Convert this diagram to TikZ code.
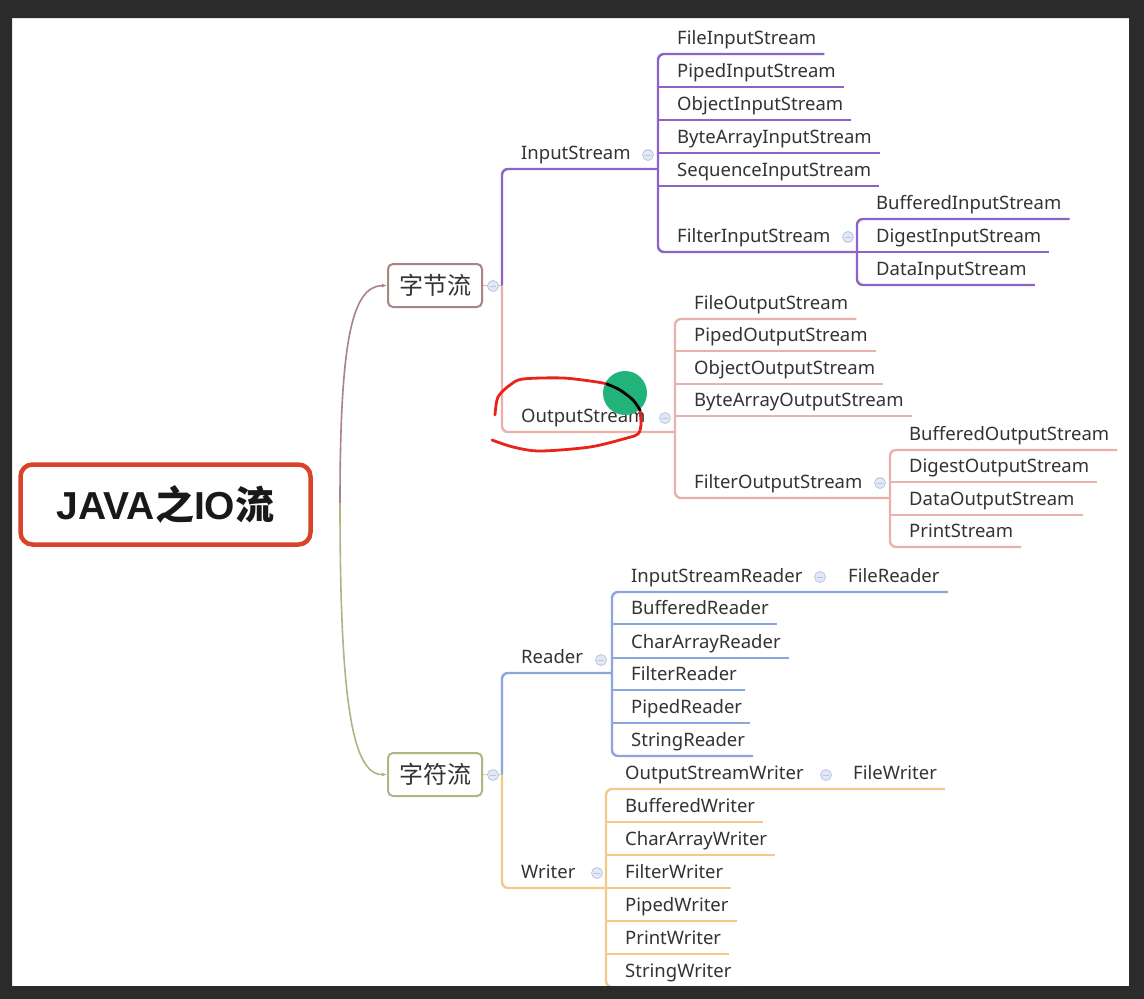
\documentclass[tikz,border=0pt]{standalone}
\usepackage{fontspec}
\setmainfont{Noto Sans}
\newfontfamily\cjk{Noto Sans CJK SC}
\newfontfamily\rootlat{Liberation Sans}
\usetikzlibrary{arrows.meta}

\definecolor{framec}{HTML}{2B2B2B}
\definecolor{txtc}{HTML}{333333}
\definecolor{rootc}{HTML}{D9432B}
\definecolor{bytec}{HTML}{A88484}
\definecolor{charc}{HTML}{AEB684}
\definecolor{inc}{HTML}{8C64C8}
\definecolor{outc}{HTML}{EAB0AA}
\definecolor{rdc}{HTML}{8AA6DC}
\definecolor{wrc}{HTML}{F3C98A}
\definecolor{foldc}{HTML}{B9C6E2}
\definecolor{foldf}{HTML}{E2E8F6}
\definecolor{markc}{HTML}{E8231C}
\definecolor{dotc}{HTML}{22B37A}

\tikzset{
  rootbox/.style={draw=rootc, line width=4.5pt, rounded corners=12pt, minimum width=290pt, minimum height=80pt, fill=white, text=black!90, font=\bfseries\fontsize{39}{42}\selectfont},
  catbox/.style={line width=2pt, rounded corners=5pt, minimum width=94pt, minimum height=43pt, fill=white, text=txtc, font=\cjk\fontsize{24}{26}\selectfont},
  leaf/.style={anchor=south west, inner xsep=8pt, inner ysep=4.5pt, text depth=5pt, text=txtc, font=\fontsize{18.5}{20}\selectfont},
  fold/.style={circle, draw=foldc, fill=foldf, line width=0.8pt, minimum size=11pt, inner sep=0pt,
    path picture={\draw[foldc, line width=1pt] ([xshift=-3pt]path picture bounding box.center) -- ([xshift=3pt]path picture bounding box.center);}},
  bline/.style={line width=2.4pt, rounded corners=6pt},
  redmark/.style={markc, line width=2.8pt, line cap=round},
}

\begin{document}
\begin{tikzpicture}[x=1pt, y=-1pt]
  \useasboundingbox (0,0) rectangle (1144,999);
  \fill[white] (12,18) rectangle (1129,986);

  % main nodes
  \node[rootbox] (java) at (165.5,504.5) {{\rootlat\bfseries JAVA}{\cjk\bfseries 之}{\rootlat\bfseries IO}{\cjk\bfseries 流}};
  \node[catbox, draw=bytec] (byte) at (435,285.5) {字节流};
  \node[catbox, draw=charc] (char) at (435,774.5) {字符流};
  \coordinate (fork) at (340,503);
  \draw[bytec, line width=1.6pt, -{Latex[length=5pt,width=4pt]}] (fork) .. controls (340,340) and (352,286) .. (byte.west);
  \draw[charc, line width=1.6pt, -{Latex[length=5pt,width=4pt]}] (fork) .. controls (340,700) and (352,775) .. (char.west);

  % bars
  \coordinate (bbar) at (502,0);
  \coordinate (isbar) at (658,0);
  \coordinate (fisbar) at (857,0);
  \coordinate (osbar) at (675,0);
  \coordinate (fosbar) at (890,0);
  \coordinate (rbar) at (612,0);
  \coordinate (wbar) at (606,0);

  % byte streams
  \node[leaf] (in) at (513,169) {InputStream};
  \node[leaf] (out) at (513,432) {OutputStream};
  \node[leaf] (fis) at (669,54) {FileInputStream};
  \node[leaf] (pis) at (669,87) {PipedInputStream};
  \node[leaf] (ois) at (669,120) {ObjectInputStream};
  \node[leaf] (bais) at (669,153) {ByteArrayInputStream};
  \node[leaf] (sis) at (669,186) {SequenceInputStream};
  \node[leaf] (flis) at (669,252) {FilterInputStream};
  \node[leaf] (bis) at (868,219) {BufferedInputStream};
  \node[leaf] (dgis) at (868,252) {DigestInputStream};
  \node[leaf] (dtis) at (868,285) {DataInputStream};
  \node[leaf] (fos) at (686,319) {FileOutputStream};
  \node[leaf] (pos) at (686,351) {PipedOutputStream};
  \node[leaf] (oos) at (686,384) {ObjectOutputStream};
  \node[leaf] (baos) at (686,416) {ByteArrayOutputStream};
  \node[leaf] (flos) at (686,498) {FilterOutputStream};
  \node[leaf] (bos) at (901,450) {BufferedOutputStream};
  \node[leaf] (dgos) at (901,482) {DigestOutputStream};
  \node[leaf] (dtos) at (901,515) {DataOutputStream};
  \node[leaf] (ps) at (901,547) {PrintStream};

  \draw[outc, line width=1.6pt] (byte.east) -- (bbar |- byte.east);
  \draw[bline, inc] (bbar |- byte.east) -- (bbar |- in.south) -- (isbar |- in.south);
  \draw[bline, outc] (bbar |- byte.east) -- (bbar |- out.south) -- (osbar |- out.south);
  \draw[bline, inc] (fis.south east) -- (isbar |- fis.south) -- (isbar |- flis.south) -- (fisbar |- flis.south);
  \draw[bline, inc] (isbar |- pis.south) -- (pis.south east);
  \draw[bline, inc] (isbar |- ois.south) -- (ois.south east);
  \draw[bline, inc] (isbar |- bais.south) -- (bais.south east);
  \draw[bline, inc] (isbar |- sis.south) -- (sis.south east);
  \draw[bline, inc] (bis.south east) -- (fisbar |- bis.south) -- (fisbar |- dtis.south) -- (dtis.south east);
  \draw[bline, inc] (fisbar |- dgis.south) -- (dgis.south east);
  \draw[bline, outc] (fos.south east) -- (osbar |- fos.south) -- (osbar |- flos.south) -- (fosbar |- flos.south);
  \draw[bline, outc] (osbar |- pos.south) -- (pos.south east);
  \draw[bline, outc] (osbar |- oos.south) -- (oos.south east);
  \draw[bline, outc] (osbar |- baos.south) -- (baos.south east);
  \draw[bline, outc] (bos.south east) -- (fosbar |- bos.south) -- (fosbar |- ps.south) -- (ps.south east);
  \draw[bline, outc] (fosbar |- dgos.south) -- (dgos.south east);
  \draw[bline, outc] (fosbar |- dtos.south) -- (dtos.south east);

  % char streams
  \node[leaf] (rd) at (513,673) {Reader};
  \node[leaf] (wr) at (513,888) {Writer};
  \node[leaf] (isr) at (623,592) {InputStreamReader};
  \node[leaf] (frd) at (840,592) {FileReader};
  \node[leaf] (brd) at (623,624) {BufferedReader};
  \node[leaf] (crd) at (623,658) {CharArrayReader};
  \node[leaf] (flrd) at (623,690) {FilterReader};
  \node[leaf] (prd) at (623,723) {PipedReader};
  \node[leaf] (srd) at (623,756) {StringReader};
  \node[leaf] (osw) at (617,789) {OutputStreamWriter};
  \node[leaf] (fwr) at (845,789) {FileWriter};
  \node[leaf] (bwr) at (617,822) {BufferedWriter};
  \node[leaf] (cwr) at (617,855) {CharArrayWriter};
  \node[leaf] (flwr) at (617,888) {FilterWriter};
  \node[leaf] (pwr) at (617,921) {PipedWriter};
  \node[leaf] (prwr) at (617,954) {PrintWriter};
  \node[leaf] (swr) at (617,987) {StringWriter};

  \draw[wrc, line width=1.6pt] (char.east) -- (bbar |- char.east);
  \draw[bline, rdc] (bbar |- char.east) -- (bbar |- rd.south) -- (rbar |- rd.south);
  \draw[bline, wrc] (bbar |- char.east) -- (bbar |- wr.south) -- (wbar |- wr.south);
  \draw[bline, rdc] (frd.south east) -- (rbar |- isr.south) -- (rbar |- srd.south) -- (srd.south east);
  \draw[bline, rdc] (rbar |- brd.south) -- (brd.south east);
  \draw[bline, rdc] (rbar |- crd.south) -- (crd.south east);
  \draw[bline, rdc] (rbar |- flrd.south) -- (flrd.south east);
  \draw[bline, rdc] (rbar |- prd.south) -- (prd.south east);
  \draw[bline, wrc] (fwr.south east) -- (wbar |- osw.south) -- (wbar |- swr.south) -- (swr.south east);
  \draw[bline, wrc] (wbar |- bwr.south) -- (bwr.south east);
  \draw[bline, wrc] (wbar |- cwr.south) -- (cwr.south east);
  \draw[bline, wrc] (wbar |- flwr.south) -- (flwr.south east);
  \draw[bline, wrc] (wbar |- pwr.south) -- (pwr.south east);
  \draw[bline, wrc] (wbar |- prwr.south) -- (prwr.south east);

  % fold markers
  \node[fold] (fbyte) at (493,286) {};
  \node[fold] (fchar) at (493,775) {};
  \node[fold] (fin) at (648,155) {};
  \node[fold] (fflis) at (848,237) {};
  \node[fold] (fout) at (665,418) {};
  \node[fold] (fflos) at (880,483) {};
  \node[fold] (frdm) at (601,660) {};
  \node[fold] (fisr) at (820,577) {};
  \node[fold] (fwrm) at (597,873) {};
  \node[fold] (fosw) at (826,775) {};

  % hand marks
  \fill[dotc] (625,393) circle (22);
  \draw[redmark] plot[smooth] coordinates {(495,415) (498,397) (510,385) (523,379) (563,378) (597,382) (607,384)};
  \draw[redmark] plot[smooth] coordinates {(640,410) (641,425) (638,434) (627,438) (590,447) (540,451) (513,447) (492,440)};
  \draw[black, line width=2.8pt, line cap=round] plot[smooth] coordinates {(607,384) (620,390) (633,400) (640,410)};

  \fill[framec, even odd rule] (0,0) rectangle (1144,999) (12,18) rectangle (1129,986);
\end{tikzpicture}
\end{document}
